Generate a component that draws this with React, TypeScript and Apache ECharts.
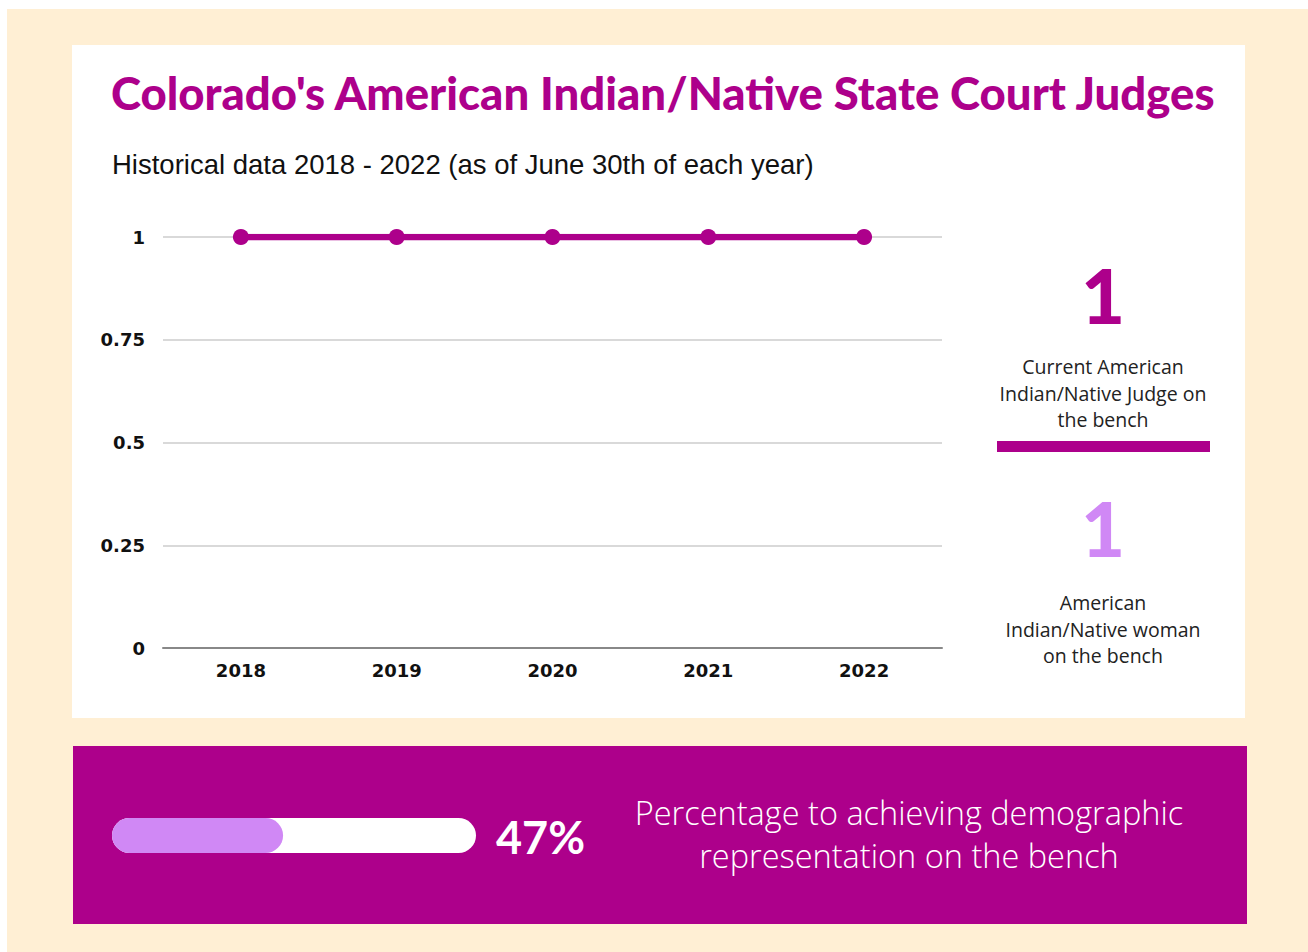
import React, { useEffect, useRef } from "react";
import * as echarts from "echarts";

const years = ["2018", "2019", "2020", "2021", "2022"];
const judges = [1, 1, 1, 1, 1];
const yMin = 0;
const yMax = 1;
const yStep = 0.25;
const currentJudges = 1;
const nativeWomen = 1;
const progressPct = 47;

const PURPLE = "#AD008B";
const LIGHT = "#D088F5";
const BEIGE = "#FFEFD4";

export default function App() {
  const ref = useRef<HTMLDivElement>(null);
  useEffect(() => {
    if (!ref.current) return;
    const chart = echarts.init(ref.current, null, { renderer: "svg" });
    const barX = 112;
    const barY = 818;
    const barW = 364;
    const barH = 35;
    const fillW = (barW * progressPct) / 100;
    chart.setOption({
      animation: false,
      backgroundColor: "#ffffff",
      graphic: [
        { type: "rect", z: -10, shape: { x: 7, y: 9, width: 1301, height: 943 }, style: { fill: BEIGE } },
        { type: "rect", z: -9, shape: { x: 72, y: 45, width: 1173, height: 673 }, style: { fill: "#ffffff" } },
        { type: "rect", z: -9, shape: { x: 73, y: 746, width: 1174, height: 178 }, style: { fill: PURPLE } },
        {
          type: "text",
          x: 111,
          y: 92,
          style: {
            text: "Colorado's American Indian/Native State Court Judges",
            fill: PURPLE,
            font: "900 45.5px Lato, 'Open Sans', sans-serif",
            align: "left",
            verticalAlign: "middle",
          },
        },
        {
          type: "text",
          x: 112,
          y: 164,
          style: {
            text: "Historical data 2018 - 2022 (as of June 30th of each year)",
            fill: "#111111",
            font: "27.5px 'Liberation Sans', Arial, sans-serif",
            align: "left",
            verticalAlign: "middle",
          },
        },
        {
          type: "text",
          x: 1103,
          y: 294,
          style: {
            text: String(currentJudges),
            fill: PURPLE,
            font: "900 76px Lato, sans-serif",
            align: "center",
            verticalAlign: "middle",
          },
        },
        {
          type: "text",
          x: 1103,
          y: 393,
          style: {
            text: "Current American\nIndian/Native Judge on\nthe bench",
            fill: "#222222",
            font: "19.5px 'Open Sans', Lato, sans-serif",
            lineHeight: 26.5,
            align: "center",
            verticalAlign: "middle",
          },
        },
        { type: "rect", shape: { x: 997, y: 441, width: 213, height: 11 }, style: { fill: PURPLE } },
        {
          type: "text",
          x: 1103,
          y: 527,
          style: {
            text: String(nativeWomen),
            fill: LIGHT,
            font: "900 76px Lato, sans-serif",
            align: "center",
            verticalAlign: "middle",
          },
        },
        {
          type: "text",
          x: 1103,
          y: 629,
          style: {
            text: "American\nIndian/Native woman\non the bench",
            fill: "#222222",
            font: "19.5px 'Open Sans', Lato, sans-serif",
            lineHeight: 26.5,
            align: "center",
            verticalAlign: "middle",
          },
        },
        { type: "rect", shape: { x: barX, y: barY, width: barW, height: barH, r: barH / 2 }, style: { fill: "#ffffff" } },
        { type: "rect", shape: { x: barX, y: barY, width: fillW, height: barH, r: barH / 2 }, style: { fill: LIGHT } },
        {
          type: "text",
          x: 496,
          y: 837,
          style: {
            text: progressPct + "%",
            fill: "#ffffff",
            font: "bold 45px Lato, 'Open Sans', sans-serif",
            align: "left",
            verticalAlign: "middle",
          },
        },
        {
          type: "text",
          x: 909,
          y: 834,
          style: {
            text: "Percentage to achieving demographic\nrepresentation on the bench",
            fill: "#ffffff",
            font: "300 32.5px 'Open Sans', Lato, sans-serif",
            lineHeight: 43,
            align: "center",
            verticalAlign: "middle",
          },
        },
      ],
      grid: { left: 163, right: 366, top: 237, bottom: 304, containLabel: false },
      xAxis: {
        type: "category",
        data: years,
        boundaryGap: true,
        axisLine: { show: true, lineStyle: { color: "#888888", width: 2 } },
        axisTick: { show: false },
        axisLabel: {
          color: "#111111",
          fontFamily: "'DejaVu Sans', sans-serif",
          fontWeight: "bold",
          fontSize: 18,
          margin: 13,
        },
      },
      yAxis: {
        type: "value",
        min: yMin,
        max: yMax,
        interval: yStep,
        axisLine: { show: false },
        axisTick: { show: false },
        splitLine: { lineStyle: { color: "#cccccc", width: 1.5 } },
        axisLabel: {
          color: "#111111",
          fontFamily: "'DejaVu Sans', sans-serif",
          fontWeight: "bold",
          fontSize: 18,
          margin: 18,
        },
      },
      series: [
        {
          type: "line",
          data: judges,
          lineStyle: { color: PURPLE, width: 6.5 },
          itemStyle: { color: PURPLE },
          symbol: "circle",
          symbolSize: 16,
          showSymbol: true,
        },
      ],
    });
    return () => chart.dispose();
  }, []);
  return (
    <div
      ref={ref}
      style={{ position: "absolute", left: 0, top: 0, width: 1308, height: 952 }}
    />
  );
}
